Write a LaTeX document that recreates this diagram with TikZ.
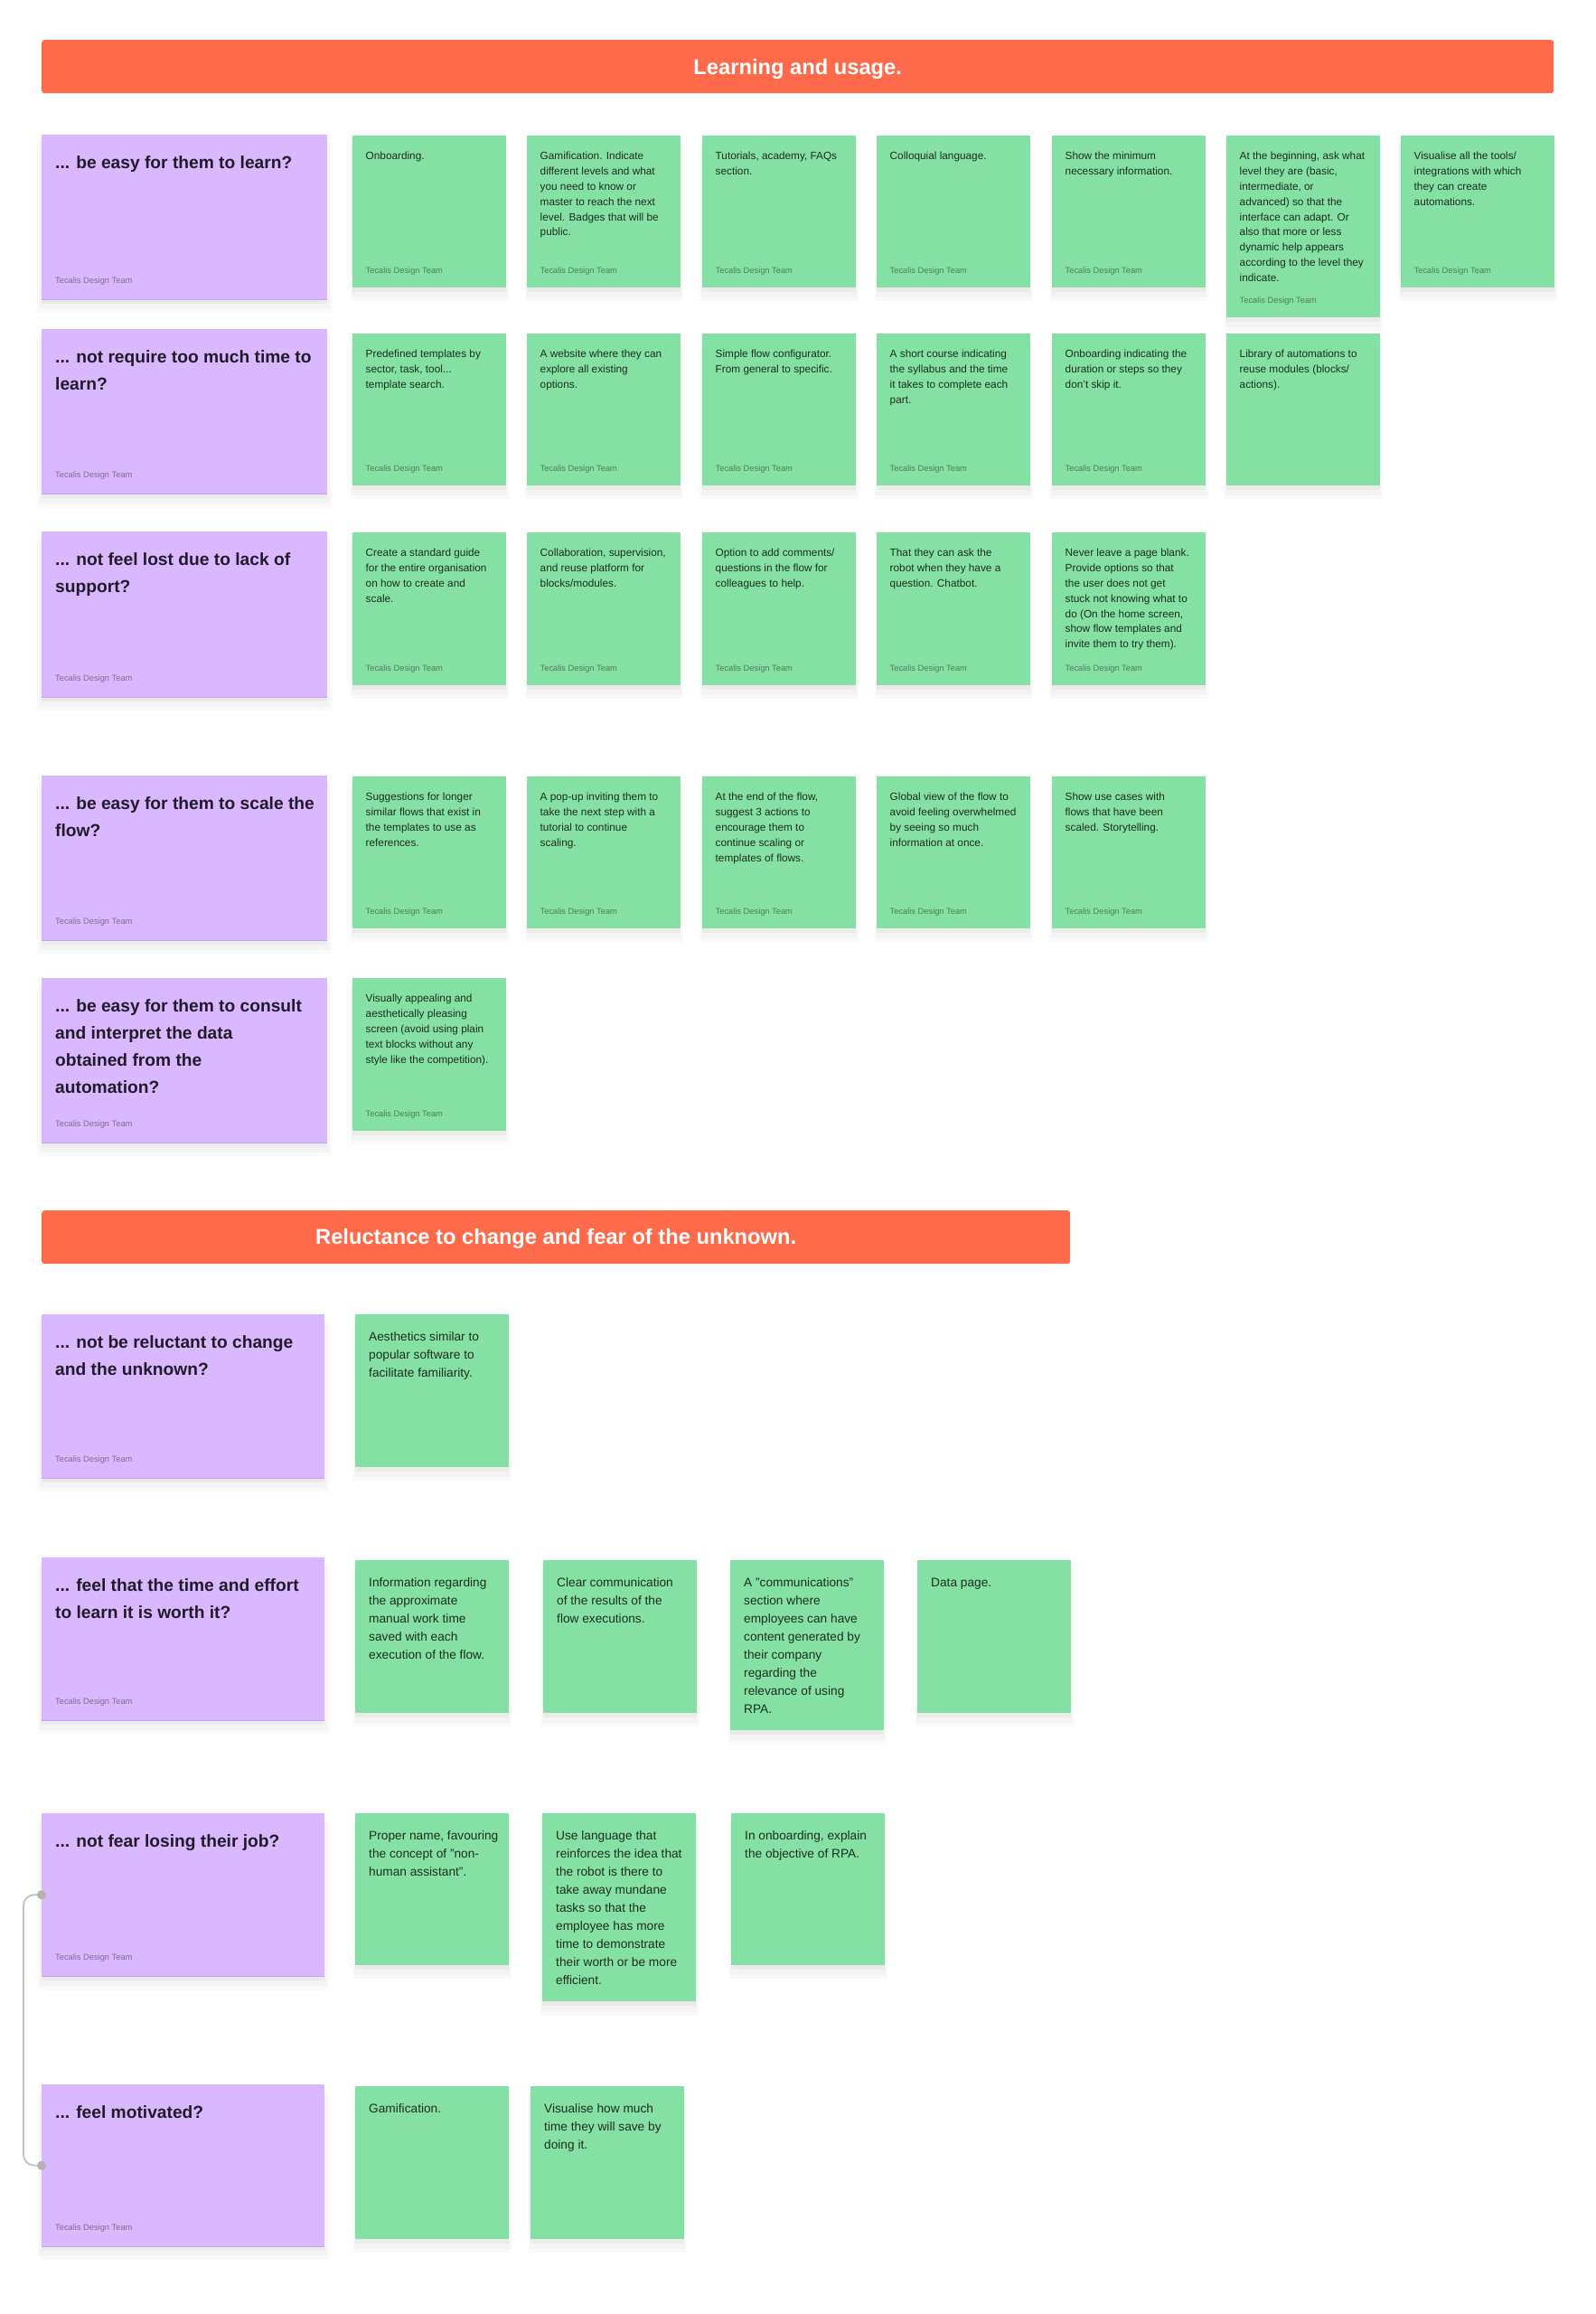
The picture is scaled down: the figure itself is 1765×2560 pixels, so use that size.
\documentclass[tikz,border=0pt]{standalone}
\usepackage{fontspec}
\setmainfont{Liberation Sans}
\usetikzlibrary{shadows}
\definecolor{chdr}{HTML}{FF6A4B}
\definecolor{cpurple}{HTML}{D9B8FF}
\definecolor{cgreen}{HTML}{85E0A3}
\definecolor{cptitle}{HTML}{211B29}
\definecolor{cpfoot}{HTML}{7E6E8E}
\definecolor{cgtext}{HTML}{1C2E23}
\definecolor{cgfoot}{HTML}{527D60}
\definecolor{cconn}{HTML}{B8C5BC}
\definecolor{cdot}{HTML}{B3B3B3}
\definecolor{cpedge}{HTML}{C7A2F2}
\newcommand{\mlines}[1]{\begin{tabular}[t]{@{}l@{}}#1\end{tabular}}
\tikzset{
  cardshadow/.style={
    drop shadow={shadow xshift=0pt,shadow yshift=-12pt,shadow scale=1.03,opacity=0.02,fill=black},
    drop shadow={shadow xshift=0pt,shadow yshift=-9pt,shadow scale=1.015,opacity=0.025,fill=black},
    drop shadow={shadow xshift=0pt,shadow yshift=-5pt,opacity=0.035,fill=black}},
  hdrbox/.style={fill=chdr, rounded corners=3pt, inner sep=0pt, anchor=north west, minimum height=59pt},
  hdrtext/.style={anchor=base, inner sep=0pt, text=white, font={\fontsize{23.7}{28}\selectfont\bfseries}},
  pcardbox/.style={fill=cpurple, inner sep=0pt, anchor=north west, cardshadow},
  gcardbox/.style={fill=cgreen, inner sep=0pt, anchor=north west, minimum width=170pt, cardshadow},
  pedgeline/.style={draw=cpedge, line width=1pt},
  ptitletext/.style={anchor=base west, inner sep=0pt, text=cptitle, font={\fontsize{19.2}{30}\selectfont\bfseries}},
  pfoottext/.style={anchor=base west, inner sep=0pt, text=cpfoot, font={\fontsize{9.3}{11}\selectfont}},
  gtextA/.style={anchor=base west, inner sep=0pt, text=cgtext, font={\fontsize{11.8}{16.8}\selectfont}},
  gtextB/.style={anchor=base west, inner sep=0pt, text=cgtext, font={\fontsize{13.7}{20}\selectfont}},
  gfoottext/.style={anchor=base west, inner sep=0pt, text=cgfoot, font={\fontsize{9.3}{11}\selectfont}},
  connline/.style={draw=cconn, line width=1.8pt, rounded corners=12pt},
  enddot/.style={fill=cdot}
}
% purple question card: name, x, y, w, h, title
\newcommand{\PCard}[6]{%
  \node[pcardbox, minimum width=#4pt, minimum height=#5pt] (#1) at (#2,#3) {};
  \draw[pedgeline] (#1.south west) -- (#1.south east);
  \node[ptitletext] (#1-t) at ([xshift=15pt,yshift=-37.5pt]#1.north west) {\mlines{#6}};
  \node[pfoottext] (#1-f) at ([xshift=15pt,yshift=17.7pt]#1.south west) {Tecalis Design Team};
}
% green idea card (section 1): name, x, y, h, text
\newcommand{\GCard}[5]{%
  \node[gcardbox, minimum height=#4pt] (#1) at (#2,#3) {};
  \node[gtextA] (#1-t) at ([xshift=14.5pt,yshift=-26.8pt]#1.north west) {\mlines{#5}};
}
\newcommand{\GFoot}[1]{%
  \node[gfoottext] (#1-f) at ([xshift=14.5pt,yshift=16pt]#1.south west) {Tecalis Design Team};
}
% green idea card (section 2): name, x, y, h, text
\newcommand{\GCardB}[5]{%
  \node[gcardbox, minimum height=#4pt] (#1) at (#2,#3) {};
  \node[gtextB] (#1-t) at ([xshift=15pt,yshift=-29.5pt]#1.north west) {\mlines{#5}};
}
\begin{document}
\begin{tikzpicture}[x=1pt,y=-1pt]
\fill[white] (0,0) rectangle (1765,2560);
\useasboundingbox (0,0) rectangle (1765,2560);

% ---------- Section 1 ----------
\node[hdrbox, minimum width=1673pt] (h1) at (46,44) {};
\node[hdrtext] (h1-t) at ([yshift=-8.5pt]h1.center) {Learning and usage.};

% Row 1
\PCard{p1}{46}{149}{316}{182}{... be easy for them to learn?}
\GCard{g11}{390}{150}{168}{Onboarding.}\GFoot{g11}
\GCard{g12}{583}{150}{168}{Gamification. Indicate\\different levels and what\\you need to know or\\master to reach the next\\level. Badges that will be\\public.}\GFoot{g12}
\GCard{g13}{777}{150}{168}{Tutorials, academy, FAQs\\section.}\GFoot{g13}
\GCard{g14}{970}{150}{168}{Colloquial language.}\GFoot{g14}
\GCard{g15}{1164}{150}{168}{Show the minimum\\necessary information.}\GFoot{g15}
\GCard{g16}{1357}{150}{201}{At the beginning, ask what\\level they are (basic,\\intermediate, or\\advanced) so that the\\interface can adapt. Or\\also that more or less\\dynamic help appears\\according to the level they\\indicate.}\GFoot{g16}
\GCard{g17}{1550}{150}{168}{Visualise all the tools/\\integrations with which\\they can create\\automations.}\GFoot{g17}

% Row 2
\PCard{p2}{46}{364}{316}{182}{... not require too much time to\\learn?}
\GCard{g21}{390}{369}{168}{Predefined templates by\\sector, task, tool...\\template search.}\GFoot{g21}
\GCard{g22}{583}{369}{168}{A website where they can\\explore all existing\\options.}\GFoot{g22}
\GCard{g23}{777}{369}{168}{Simple flow configurator.\\From general to specific.}\GFoot{g23}
\GCard{g24}{970}{369}{168}{A short course indicating\\the syllabus and the time\\it takes to complete each\\part.}\GFoot{g24}
\GCard{g25}{1164}{369}{168}{Onboarding indicating the\\duration or steps so they\\don't skip it.}\GFoot{g25}
\GCard{g26}{1357}{369}{168}{Library of automations to\\reuse modules (blocks/\\actions).}

% Row 3
\PCard{p3}{46}{588}{316}{183}{... not feel lost due to lack of\\support?}
\GCard{g31}{390}{589}{169}{Create a standard guide\\for the entire organisation\\on how to create and\\scale.}\GFoot{g31}
\GCard{g32}{583}{589}{169}{Collaboration, supervision,\\and reuse platform for\\blocks/modules.}\GFoot{g32}
\GCard{g33}{777}{589}{169}{Option to add comments/\\questions in the flow for\\colleagues to help.}\GFoot{g33}
\GCard{g34}{970}{589}{169}{That they can ask the\\robot when they have a\\question. Chatbot.}\GFoot{g34}
\GCard{g35}{1164}{589}{169}{Never leave a page blank.\\Provide options so that\\the user does not get\\stuck not knowing what to\\do (On the home screen,\\show flow templates and\\invite them to try them).}\GFoot{g35}

% Row 4
\PCard{p4}{46}{858}{316}{182}{... be easy for them to scale the\\flow?}
\GCard{g41}{390}{859}{168}{Suggestions for longer\\similar flows that exist in\\the templates to use as\\references.}\GFoot{g41}
\GCard{g42}{583}{859}{168}{A pop-up inviting them to\\take the next step with a\\tutorial to continue\\scaling.}\GFoot{g42}
\GCard{g43}{777}{859}{168}{At the end of the flow,\\suggest 3 actions to\\encourage them to\\continue scaling or\\templates of flows.}\GFoot{g43}
\GCard{g44}{970}{859}{168}{Global view of the flow to\\avoid feeling overwhelmed\\by seeing so much\\information at once.}\GFoot{g44}
\GCard{g45}{1164}{859}{168}{Show use cases with\\flows that have been\\scaled. Storytelling.}\GFoot{g45}

% Row 5
\PCard{p5}{46}{1082}{316}{182}{... be easy for them to consult\\and interpret the data\\obtained from the\\automation?}
\GCard{g51}{390}{1082}{169}{Visually appealing and\\aesthetically pleasing\\screen (avoid using plain\\text blocks without any\\style like the competition).}\GFoot{g51}

% ---------- Section 2 ----------
\node[hdrbox, minimum width=1138pt] (h2) at (46,1339) {};
\node[hdrtext] (h2-t) at ([yshift=-8pt]h2.center) {Reluctance to change and fear of the unknown.};

% Row 6
\PCard{p6}{46}{1454}{313}{181}{... not be reluctant to change\\and the unknown?}
\GCardB{g61}{393}{1454}{169}{Aesthetics similar to\\popular software to\\facilitate familiarity.}

% Row 7
\PCard{p7}{46}{1723}{313}{180}{... feel that the time and effort\\to learn it is worth it?}
\GCardB{g71}{393}{1726}{169}{Information regarding\\the approximate\\manual work time\\saved with each\\execution of the flow.}
\GCardB{g72}{601}{1726}{169}{Clear communication\\of the results of the\\flow executions.}
\GCardB{g73}{808}{1726}{188}{A "communications"\\section where\\employees can have\\content generated by\\their company\\regarding the\\relevance of using\\RPA.}
\GCardB{g74}{1015}{1726}{169}{Data page.}

% Row 8
\PCard{p8}{46}{2006}{313}{180}{... not fear losing their job?}
\GCardB{g81}{393}{2006}{168}{Proper name, favouring\\the concept of "non-\\human assistant".}
\GCardB{g82}{600}{2006}{208}{Use language that\\reinforces the idea that\\the robot is there to\\take away mundane\\tasks so that the\\employee has more\\time to demonstrate\\their worth or be more\\efficient.}
\GCardB{g83}{809}{2006}{168}{In onboarding, explain\\the objective of RPA.}

% Row 9
\PCard{p9}{46}{2306}{313}{179}{... feel motivated?}
\GCardB{g91}{393}{2308}{169}{Gamification.}
\GCardB{g92}{587}{2308}{169}{Visualise how much\\time they will save by\\doing it.}

% connector between p8 and p9
\draw[connline] (p8.west) -- ++(-20pt,0pt) |- (p9.west);
\fill[enddot] (p8.west) circle[radius=5pt];
\fill[enddot] (p9.west) circle[radius=5pt];
\end{tikzpicture}
\end{document}
